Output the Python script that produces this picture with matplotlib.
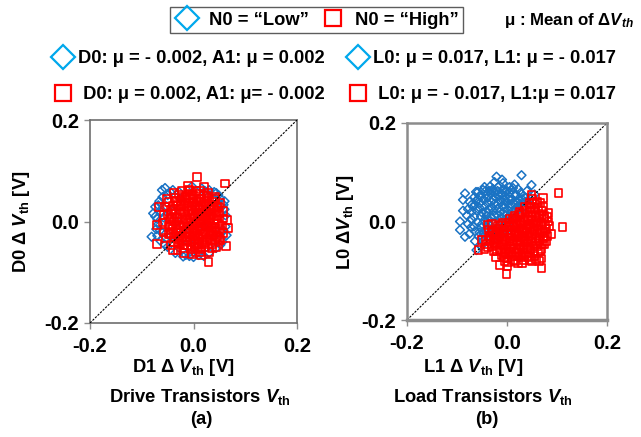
import numpy as np
import matplotlib
matplotlib.use('Agg')
import matplotlib.pyplot as plt
from matplotlib.lines import Line2D

plt.rcParams['font.family'] = ['Liberation Sans', 'DejaVu Sans']
plt.rcParams['font.weight'] = 'bold'
plt.rcParams['mathtext.fontset'] = 'custom'
plt.rcParams['mathtext.rm'] = 'Liberation Sans:bold'
plt.rcParams['mathtext.it'] = 'Liberation Sans:bold:italic'
plt.rcParams['mathtext.bf'] = 'Liberation Sans:bold'
plt.rcParams['axes.unicode_minus'] = False

# delta Vth samples in mV, (x, y) = (D1, D0) for drive and (L1, L0) for load
drive_low = [(-61, 62), (-55, 66), (-78, 16), (-81, -30), (58, 33), (51, 46), (16, 65), (-3, 69),
             (-20, -69), (-74, 29), (64, -27), (-66, 40), (-70, 5), (-72, -15), (-64, -38), (-50, -50),
             (-35, -62), (-8, -68), (10, -66), (30, -62), (44, -52), (56, -40), (62, -10), (62, 12),
             (60, 24), (44, 56), (30, 62), (-40, 62), (-50, 52), (-62, 18), (-68, -5), (-56, -45),
             (-68, 32), (-40, 20), (-30, 0), (-20, -20), (0, 10), (20, -10), (10, 30), (-10, -40),
             (30, 20), (-45, -30), (40, -30), (-25, 45), (5, -50), (-58, 8), (-52, 30), (48, 52),
             (54, -20), (-28, 58), (22, 60), (-60, -22), (-65, -18), (-60, 48), (-45, 58), (52, -46),
             (58, -18), (-70, -28), (-15, -66), (40, 58), (60, 40), (-74, 10), (0, -70), (20, -68)]
drive_high = [(6, 88), (61, 75), (-66, 29), (-70, -7), (-70, -44), (29, -79), (64, 3), (63, -48),
              (-39, -56), (67, -13), (-52, 45), (-38, 57), (-22, 60), (-8, 63), (12, 60), (28, 57),
              (42, 48), (52, 36), (57, 20), (58, 6), (57, -22), (52, -36), (44, -50), (30, -60),
              (14, -66), (-3, -64), (-18, -62), (-31, -57), (-44, -47), (-53, -33), (-58, -20), (-60, -2),
              (-58, 12), (-55, 28), (-48, 38), (46, -30), (55, -8), (-10, 70), (20, 68), (-47, -25),
              (-40, 30), (-35, 15), (-38, 0), (-40, -15), (-36, -30), (-30, -42), (-25, 40), (-27, 22),
              (-22, 5), (-28, -8), (-24, -22), (-20, -38), (-15, 48), (-12, 30), (-16, 14), (-10, -2),
              (-14, -16), (-9, -30), (-12, -46), (-3, 52), (0, 38), (-4, 22), (2, 8), (-2, -8),
              (3, -22), (-1, -36), (2, -50), (10, 45), (8, 28), (12, 14), (9, -4), (13, -15),
              (8, -32), (11, -44), (20, 38), (22, 22), (18, 5), (24, -8), (19, -25), (22, -40),
              (30, 30), (32, 12), (28, -2), (33, -18), (29, -33), (38, 38), (40, 22), (39, 5),
              (42, -12), (37, -27), (45, 12), (47, -4), (46, -20), (-33, 40), (-45, 5), (-46, -10),
              (-42, 18), (25, 50), (-28, 52), (-6, 60), (5, 60), (35, -45), (-5, -55), (15, -55),
              (-20, -52), (0, 0), (-6, 12), (6, -12), (16, -2), (-18, -4), (-8, 20), (14, 32),
              (24, 12), (-30, -18), (-24, 30), (30, -10), (4, 30), (-2, 44), (18, -18), (-12, -24),
              (-42, -5), (-38, 25), (-34, -22), (-32, 8), (-31, 32), (-29, -35), (-26, -12), (-26, 15),
              (-23, -30), (-21, 34), (-20, -8), (-19, 18), (-18, -46), (-17, 42), (-15, -20), (-14, 4),
              (-13, -36), (-11, 24), (-10, 52), (-9, -12), (-8, 36), (-7, -40), (-6, -22), (-5, 6),
              (-4, -50), (-3, 30), (-1, 16), (0, -28), (1, 50), (2, -16), (3, -42), (4, 22),
              (5, -4), (6, 40), (7, -24), (8, 10), (9, -52), (10, 54), (11, -34), (12, 2),
              (13, 24), (14, -10), (15, 44), (16, -42), (17, 16), (18, -30), (19, 30), (20, -4),
              (21, 50), (22, -50), (23, 8), (24, -20), (25, 34), (26, -36), (27, 18), (28, -8),
              (30, 42), (31, -24), (32, 2), (33, 24), (34, -36), (35, -12), (36, 14), (38, -20),
              (39, 30), (40, -4), (41, 44), (42, -40), (43, 18), (44, -28), (46, 4), (48, 28),
              (49, -14), (50, -32), (-44, 22), (-43, -22), (-41, 8), (-37, -40), (-36, 46), (-33, -8),
              (-27, -28), (-25, -45), (-23, 48), (-16, -30), (-7, 46), (-2, -20), (4, -60), (12, -60),
              (26, 46), (36, -52), (45, 26), (50, 16), (-48, -8), (-50, 15)]
load_low = [(-21, 91), (29, 94), (49, 74), (-84, 57), (-88, 44), (-94, 0), (-94, -17), (-84, -31),
            (-64, 34), (-48, 64), (-34, 71), (-8, 78), (9, 64), (-61, -58), (-70, 20), (-72, 5),
            (-66, -10), (-75, -25), (-58, 45), (-55, 28), (-52, 10), (-50, -5), (-55, -22), (-48, -40),
            (-42, 55), (-40, 38), (-42, 20), (-38, 3), (-40, -15), (-35, -30), (-30, 62), (-28, 45),
            (-30, 28), (-26, 12), (-28, -4), (-22, -20), (-18, 70), (-16, 52), (-18, 35), (-14, 20),
            (-15, 2), (-10, -12), (-5, 60), (-4, 44), (-6, 28), (-2, 12), (0, -4), (6, 50),
            (8, 35), (10, 20), (12, 5), (18, 55), (20, 40), (24, 26), (28, 12), (30, 45),
            (34, 30), (38, 48), (-62, 60), (-75, 40), (-80, 12), (-45, 70), (-10, 85), (15, 75),
            (40, 62), (-52, -50), (-64, -40), (-35, -45), (-20, -35), (0, -20), (15, -10), (5, 70),
            (-25, 80), (-47, -25), (-65, 50), (-36, 62), (-12, 40), (-24, 58), (-8, -25), (22, 66),
            (-88, 22), (-78, -5), (55, 55), (45, 35),
            (-68, 30), (-66, 10), (-64, -20), (-62, 42), (-60, 22), (-58, -2), (-57, -30), (-55, 52),
            (-54, 38), (-52, -12), (-50, 18), (-49, -32), (-47, 45), (-46, 2), (-45, 30), (-44, -18),
            (-43, 62), (-41, 12), (-39, 48), (-37, -6), (-36, 24), (-34, -22), (-33, 56), (-32, 40),
            (-31, 8), (-29, -14), (-28, 66), (-27, 20), (-25, 36), (-24, 0), (-23, 50), (-21, -28),
            (-20, 14), (-19, 62), (-17, 28), (-15, 44), (-13, -4), (-12, 56), (-11, 8), (-9, 32),
            (-8, 66), (-7, -12), (-5, 20), (-4, 52), (-3, 4), (-1, 38), (0, 62), (2, 24),
            (3, 46), (4, 10), (6, 60), (7, 30), (9, 44), (11, 14), (12, 68), (14, 36),
            (16, 22), (17, 52), (19, 8), (21, 30), (23, 46), (26, 36), (27, 58), (31, 28),
            (33, 52), (36, 40), (-72, -12), (-70, 35), (-58, 60), (-78, 25)]
load_high = [(103, 57), (111, -11), (69, -75), (69, -95), (-1, -107), (-14, -88), (-57, -58), (83, 0),
             (83, 17), (72, 48), (49, 54), (-38, -7), (-51, -38), (22, -84), (-40, -45), (-35, -30),
             (-30, -50), (-28, -20), (-25, -38), (-20, -60), (-18, -10), (-15, -28), (-12, -45), (-10, -68),
             (-8, -2), (-5, -18), (-4, -35), (-2, -55), (0, -75), (5, 5), (6, -12), (8, -28),
             (10, -45), (8, -62), (12, -78), (15, 12), (16, -5), (18, -20), (20, -38), (18, -55),
             (22, -70), (25, 20), (26, 2), (28, -15), (30, -30), (28, -48), (32, -64), (35, 30),
             (36, 10), (38, -8), (40, -24), (38, -42), (42, -58), (45, 38), (46, 20), (48, 2),
             (50, -15), (48, -35), (52, -50), (55, 28), (57, 10), (58, -8), (60, -28), (58, -45),
             (62, -62), (65, 15), (68, -2), (70, -20), (66, -38), (72, 30), (75, 5), (78, -15),
             (74, -30), (-45, -55), (-22, -72), (40, -70), (55, -70), (-30, -5), (60, 40), (75, -45),
             (80, -30), (0, -90), (30, -85), (10, -10), (20, 0), (35, -20), (45, -5), (-10, -20),
             (25, -25), (5, -40), (15, -30), (42, 10), (55, -20), (32, -40), (-20, -45), (68, -55),
             (50, 45), (-5, -80), (85, -10), (88, -25), (50, -80), (64, -80),
             (-42, -38), (-38, -52), (-33, -40), (-30, -22), (-27, -60), (-24, -28), (-22, -48), (-18, -36),
             (-16, -16), (-14, -58), (-12, -6), (-10, -38), (-8, -48), (-6, -28), (-4, -62), (-2, -10),
             (0, -42), (2, -24), (3, -66), (4, -2), (6, -52), (7, -34), (9, -18), (10, -70),
             (11, 4), (13, -40), (14, -56), (15, -22), (16, 8), (17, -66), (19, -8), (21, -48),
             (22, -28), (23, 14), (24, -58), (26, -40), (27, -6), (29, -72), (30, 18), (31, -20),
             (33, -52), (34, 0), (35, -34), (36, -66), (37, 22), (39, -16), (40, -46), (41, 4),
             (43, -30), (44, -72), (45, 28), (46, -12), (47, -56), (49, 12), (50, -40), (51, -26),
             (53, -4), (54, 36), (55, -60), (56, 20), (57, -34), (59, 2), (60, -50), (61, -16),
             (62, 28), (63, -40), (64, 8), (66, -24), (67, -60), (69, -10), (70, 22), (71, -46),
             (73, -34), (74, 12), (76, -22), (77, -6), (79, -40), (80, 10), (-36, -18), (-26, -42),
             (-20, -24), (-6, -72), (2, -82), (16, -80), (34, -78), (46, -78), (58, -76), (66, 38),
             (48, 30), (58, -2), (28, -2), (12, -4), (-2, -64), (40, -54), (20, -62)]

ticks = [-0.2, 0.0, 0.2]
blue = '#1a73c4'
blue_key = '#00a8ec'
red = '#ff0000'

fig = plt.figure(figsize=(6.41, 4.37), dpi=100)
W, H = 641, 437
ax1 = fig.add_axes([90 / W, 1 - 323 / H, 207 / W, 203 / H])
ax2 = fig.add_axes([407 / W, 1 - 320 / H, 200 / W, 197 / H])


def draw_panel(ax, low, high, frame_color, frame_lw, line_on_top):
    low = np.array(low) / 1000
    high = np.array(high) / 1000
    ax.scatter(low[:, 0], low[:, 1], marker='D', s=20, facecolors='none',
               edgecolors=blue, linewidths=1.1, zorder=2)
    ax.scatter(high[:, 0], high[:, 1], marker='s', s=32, facecolors='none',
               edgecolors=red, linewidths=1.2, zorder=3)
    ax.plot([-0.2, 0.2], [-0.2, 0.2], color='k', lw=0.8, ls=(0, (2, 1.2)),
            zorder=4 if line_on_top else 2.5)
    ax.set_xlim(-0.2, 0.2)
    ax.set_ylim(-0.2, 0.2)
    ax.set_xticks(ticks)
    ax.set_yticks(ticks)
    ax.set_xticklabels(['%.1f' % t for t in ticks])
    ax.set_yticklabels(['%.1f' % t for t in ticks])
    ax.tick_params(direction='out', length=4, width=1, color='#8c8c8c',
                   labelsize=14.5, pad=4)
    ax.tick_params(axis='x', pad=6)
    for sp in ax.spines.values():
        sp.set_color(frame_color)
        sp.set_linewidth(frame_lw)


draw_panel(ax1, drive_low, drive_high, '#6e6e6e', 1.2, True)
draw_panel(ax2, load_low, load_high, '#8c8c8c', 1.8, False)
ax2.spines['bottom'].set_linewidth(2.5)

fs = 13.2
fig.text(22 / W, 1 - 222 / H, r'D0 Δ $V_{\mathrm{th}}$ [V]', rotation=90,
         ha='center', va='center', fontsize=fs)
fig.text(345 / W, 1 - 222 / H, r'L0 Δ$V_{\mathrm{th}}$ [V]', rotation=90,
         ha='center', va='center', fontsize=fs)
fig.text(183 / W, 1 - 368 / H, r'D1 Δ $V_{\mathrm{th}}$ [V]', ha='center', va='center', fontsize=fs)
fig.text(473 / W, 1 - 368 / H, r'L1 Δ $V_{\mathrm{th}}$ [V]', ha='center', va='center', fontsize=fs)
fig.text(200 / W, 1 - 397 / H, r'Drive Transistors $V_{\mathrm{th}}$', ha='center', va='center', fontsize=fs)
fig.text(483 / W, 1 - 397 / H, r'Load Transistors $V_{\mathrm{th}}$', ha='center', va='center', fontsize=fs)
fig.text(201 / W, 1 - 419 / H, '(a)', ha='center', va='center', fontsize=fs)
fig.text(487 / W, 1 - 419 / H, '(b)', ha='center', va='center', fontsize=fs)


def key(marker, color, size):
    return Line2D([], [], ls='none', marker=marker, markersize=size,
                  markerfacecolor='none', markeredgecolor=color, markeredgewidth=1.6)


# boxed legend for the N0 state
leg = fig.legend([key('D', blue_key, 12), key('s', red, 11)],
                 ['N0 = “Low”', 'N0 = “High”'], ncol=2, loc='upper left',
                 bbox_to_anchor=(170 / W, 1 - 7 / H), fontsize=fs, frameon=True,
                 fancybox=False, edgecolor='#333333', borderpad=0.25,
                 handlelength=1.4, handletextpad=0.5, columnspacing=0.6,
                 borderaxespad=0)
leg.get_frame().set_linewidth(1.0)
fig.text(634 / W, 1 - 21 / H, r'μ : Mean of Δ$V_{th}$', ha='right', va='center', fontsize=12.2)

# per-panel mean annotations
for x0, labels in [(52, ['D0: μ = - 0.002, A1: μ = 0.002', ' D0: μ = 0.002, A1: μ= - 0.002']),
                   (347, ['L0: μ = 0.017, L1: μ = - 0.017', ' L0: μ = - 0.017, L1:μ = 0.017'])]:
    fig.legend([key('D', blue_key, 12), key('s', red, 11)], labels, loc='upper left',
               bbox_to_anchor=(x0 / W, 1 - 50 / H), fontsize=fs, frameon=False,
               handlelength=1.2, handletextpad=0.2, labelspacing=1.05,
               borderpad=0, borderaxespad=0)

fig.savefig('out.png', dpi=100)
